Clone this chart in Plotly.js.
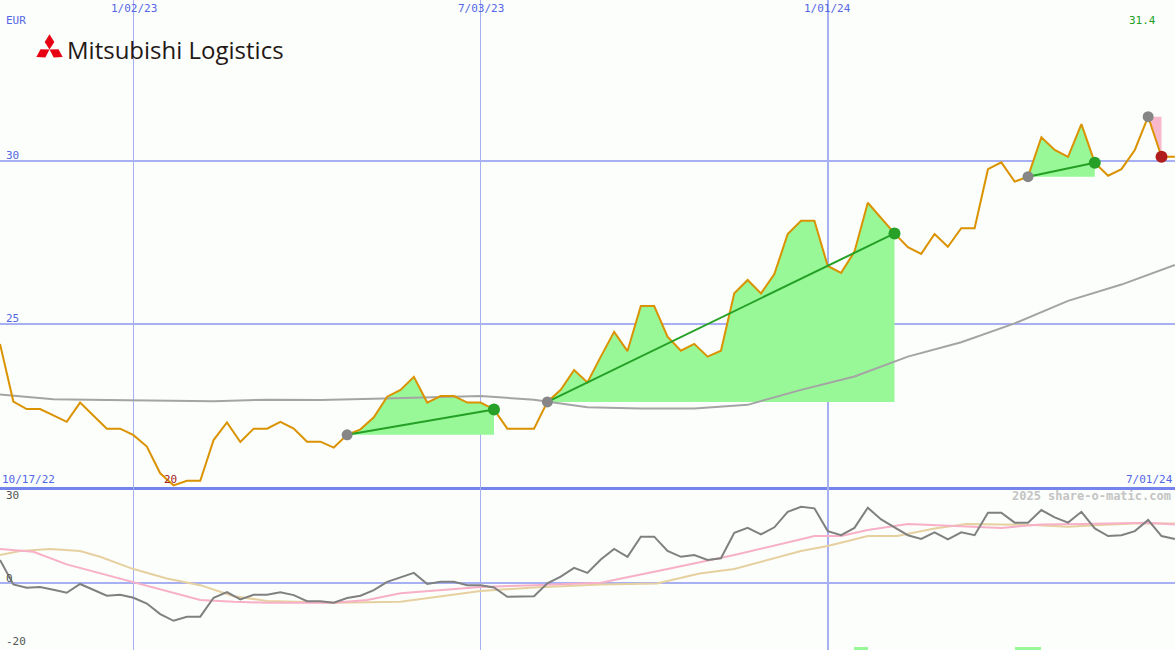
<!DOCTYPE html>
<html>
<head>
<meta charset="utf-8">
<script src="https://cdn.plot.ly/plotly-3.0.1.min.js"></script>
<style>
html,body{margin:0;padding:0;background:#fbfefb;}
#chart{width:1175px;height:650px;}
</style>
</head>
<body>
<div id="chart"></div>
<script>
// ---------- DATA ----------
// weekly closing prices (EUR), week 0 .. 88
const price = [24.39,22.62,22.39,22.39,22.20,22.00,22.59,22.19,21.79,21.79,
  21.59,21.24,20.42,20.05,20.19,20.19,21.44,21.98,21.38,21.79,
  21.79,22.00,21.79,21.39,21.39,21.21,21.60,21.77,22.14,22.77,
  22.98,23.38,22.59,22.79,22.79,22.59,22.59,22.38,21.79,21.79,
  21.79,22.61,22.98,23.59,23.21,24.00,24.76,24.17,25.55,25.55,
  24.61,24.18,24.39,24.00,24.18,25.94,26.35,25.94,26.53,27.76,
  28.17,28.17,26.78,26.57,27.22,28.72,28.24,27.78,27.36,27.15,
  27.76,27.37,27.94,27.94,29.75,29.96,29.37,29.52,30.73,30.34,
  30.13,31.13,29.95,29.55,29.75,30.34,31.36,30.13,30.13];
const weeks = price.map((_, i) => i);

// long moving average (main panel)
const maWeeks = [0,4,8,12,16,20,24,28,32,36,40,44,48,52,56,60,64,68,72,76,80,84,88];
const maVals  = [22.84,22.69,22.67,22.64,22.63,22.68,22.67,22.71,22.75,22.79,22.68,22.45,
  22.41,22.41,22.52,22.98,23.39,24.00,24.44,25.02,25.71,26.21,26.81];

// momentum indicator (lower panel)
const momentum = [7.9,-0.45,-1.6,-1.3,-2.3,-3.3,-0.3,-2.3,-4.3,-4.0,
  -5.0,-7.0,-10.6,-12.9,-11.5,-11.5,-5.0,-3.1,-5.6,-4.0,
  -4.0,-3.1,-4.1,-6.2,-6.2,-6.7,-5.1,-4.3,-2.4,0.45,
  1.9,3.5,-0.3,0.45,0.45,-0.7,-0.7,-1.5,-4.7,-4.5,
  -4.5,-0.1,2.2,5.2,3.5,8.1,11.7,9.0,15.9,15.9,
  11.0,9.0,9.6,7.9,8.5,17.2,18.9,16.7,19.1,24.4,
  26.1,25.6,17.8,16.4,18.9,25.8,21.8,19.1,16.4,15.1,
  17.4,15.0,17.4,16.4,24.1,24.1,20.7,20.7,25.0,22.5,
  20.7,24.4,18.7,16.1,16.4,17.8,21.6,16.1,15.1];

const pinkWeeks = [0,2.5,5,7.5,10,12.5,15,17.5,20,25,27.5,30,36,40,45,50,55,60,61,63,65,68,73,75,78,81,86,88];
const pinkVals  = [11.7,10.7,6.4,3.3,0.2,-2.7,-5.8,-6.4,-6.7,-6.7,-5.8,-3.5,-1.3,-0.7,0.1,4.8,9.6,15.0,16.1,16.1,18.2,20.2,19.3,18.9,20.1,20.2,20.7,20.1];

const tanWeeks = [0,1.5,3.75,6,7.5,10,12.5,15,17.5,20,25,30,36,40,45,49.2,52.4,55,60,62,65,67.2,70,72.4,77.4,80,82.4,85,88];
const tanVals  = [9.6,11.0,11.7,11.0,9.0,4.8,1.6,-0.7,-4.5,-6.1,-6.7,-6.4,-2.7,-1.5,-0.45,-0.1,3.3,4.8,11.0,12.7,16.1,16.1,18.7,20.2,19.9,19.3,19.9,20.4,20.4];

// signal bars at the bottom of the lower panel
const sigWeeks = [64.5,76.5,77.5];
const sigVals  = [1.1,1.1,1.1];

// trend segments: [startWeek, endWeek, direction]
const trendStart = [26,41,77,86];
const trendEnd   = [37,67,82,87];
const trendUp    = [true,true,true,false];

// labels
const tickWeeks = [10,36,62];
const tickText  = ['1/02/23','7/03/23','1/01/24'];
const priceTicks = [25,30];
const lowerTicks = [30,0,-20];
const startLabel = '10/17/22';
const endLabel = '7/01/24';
const currency = 'EUR';
const maxLabel = '31.4';
const minLabel = '20';
const company = 'Mitsubishi Logistics';
const watermark = '2025 share-o-matic.com';

// ---------- STYLE ----------
const W = 1175, H = 650;
const LOWER_FRAC = 163/650;
const blue = '#5566e6';
const grid = '#a6b0f2';
const mono = 'DejaVu Sans Mono, monospace';
const FS = 11;

const traces = [];

// trend fills
for (let i = 0; i < trendStart.length; i++) {
  const s = trendStart[i], e = trendEnd[i];
  const xs = weeks.slice(s, e + 1);
  const ys = price.slice(s, e + 1);
  xs.push(e, s); ys.push(price[s], price[s]);
  traces.push({x: xs, y: ys, xaxis: 'x', yaxis: 'y', type: 'scatter', mode: 'lines',
    fill: 'toself', fillcolor: trendUp[i] ? '#98f898' : '#f8b8cc', line: {width: 0},
    hoverinfo: 'skip', showlegend: false});
}
// moving average
traces.push({x: maWeeks, y: maVals, xaxis: 'x', yaxis: 'y', type: 'scatter', mode: 'lines',
  line: {color: '#a4a4a4', width: 2}, showlegend: false});
// price
traces.push({x: weeks, y: price, xaxis: 'x', yaxis: 'y', type: 'scatter', mode: 'lines',
  line: {color: '#da9200', width: 2}, showlegend: false});
// trend lines & dots
for (let i = 0; i < trendStart.length; i++) {
  const s = trendStart[i], e = trendEnd[i];
  if (trendUp[i]) {
    traces.push({x: [s, e], y: [price[s], price[e]], xaxis: 'x', yaxis: 'y', type: 'scatter',
      mode: 'lines', line: {color: '#24a024', width: 2}, showlegend: false});
  }
  traces.push({x: [s], y: [price[s]], xaxis: 'x', yaxis: 'y', type: 'scatter', mode: 'markers',
    marker: {color: '#868686', size: 11}, showlegend: false});
  traces.push({x: [e], y: [price[e]], xaxis: 'x', yaxis: 'y', type: 'scatter', mode: 'markers',
    marker: {color: trendUp[i] ? '#26a026' : '#b01c1c', size: 12}, showlegend: false});
}
// lower panel
traces.push({x: sigWeeks, y: sigVals, base: -22.9, width: 1, xaxis: 'x2', yaxis: 'y2', type: 'bar',
  marker: {color: '#98f898', line: {width: 0}}, showlegend: false});
traces.push({x: tanWeeks, y: tanVals, xaxis: 'x2', yaxis: 'y2', type: 'scatter', mode: 'lines',
  line: {color: '#e6d0a0', width: 2}, showlegend: false});
traces.push({x: pinkWeeks, y: pinkVals, xaxis: 'x2', yaxis: 'y2', type: 'scatter', mode: 'lines',
  line: {color: '#f8b0c8', width: 2}, showlegend: false});
traces.push({x: weeks, y: momentum, xaxis: 'x2', yaxis: 'y2', type: 'scatter', mode: 'lines',
  line: {color: '#808080', width: 2}, showlegend: false});

// ---------- ANNOTATIONS ----------
const py = p => 1 - p / H;   // pixel row -> paper y
const px = p => p / W;       // pixel col -> paper x
const ann = [];
tickWeeks.forEach((w, i) => ann.push({x: w, xref: 'x', y: py(8), yref: 'paper', yanchor: 'middle',
  text: tickText[i], showarrow: false, font: {family: mono, size: FS, color: blue}}));
ann.push({x: px(4), xref: 'paper', xanchor: 'left', y: py(20), yref: 'paper', yanchor: 'middle',
  text: currency, showarrow: false, font: {family: mono, size: FS, color: blue}});
priceTicks.forEach(v => ann.push({x: px(4), xref: 'paper', xanchor: 'left', y: v, yref: 'y', yanchor: 'middle',
  yshift: 6, text: String(v), showarrow: false, font: {family: mono, size: FS, color: blue}}));
lowerTicks.forEach(v => ann.push({x: px(4), xref: 'paper', xanchor: 'left', y: v, yref: 'y2',
  yanchor: 'middle', yshift: v === 0 ? 5 : 0, text: String(v), showarrow: false,
  font: {family: mono, size: FS, color: '#555555'}}));
ann.push({x: 0, xref: 'paper', xanchor: 'left', y: py(479), yref: 'paper', yanchor: 'middle',
  text: startLabel, showarrow: false, font: {family: mono, size: FS, color: blue}});
ann.push({x: 1, xref: 'paper', xanchor: 'right', y: py(479), yref: 'paper', yanchor: 'middle',
  text: endLabel, showarrow: false, font: {family: mono, size: FS, color: blue}});
const minW = price.indexOf(Math.min(...price));
const maxW = price.indexOf(Math.max(...price));
ann.push({x: minW, xref: 'x', xshift: -3, y: py(479), yref: 'paper', yanchor: 'middle',
  text: minLabel, showarrow: false, font: {family: mono, size: FS, color: '#a01c1c'}});
ann.push({x: maxW, xref: 'x', xshift: -6, y: py(20), yref: 'paper', yanchor: 'middle',
  text: maxLabel, showarrow: false, font: {family: mono, size: FS, color: '#22a022'}});
ann.push({x: 1, xref: 'paper', xanchor: 'right', xshift: -2, y: py(496), yref: 'paper', yanchor: 'middle',
  text: watermark, showarrow: false, font: {family: mono, size: 12, color: '#c4c4c4', weight: 'bold'}});
ann.push({x: px(65), xref: 'paper', xanchor: 'left', y: py(50), yref: 'paper', yanchor: 'middle',
  text: company, showarrow: false, font: {family: 'Open Sans', size: 24, color: '#231815', weight: 500}});

// ---------- LOGO (three diamonds) ----------
const cx = 49.5, cy = 49.5;
const rh = [[0,0],[-4.8,-7.6],[0,-15.2],[4.8,-7.6]];
function rot(p, deg) {
  const a = deg * Math.PI / 180;
  return [p[0]*Math.cos(a) - p[1]*Math.sin(a), p[0]*Math.sin(a) + p[1]*Math.cos(a)];
}
const shapes = [0, 120, 240].map(deg => {
  const pts = rh.map(p => rot(p, deg)).map(p => [px(cx + p[0]), py(cy + p[1])]);
  return {type: 'path', xref: 'paper', yref: 'paper', layer: 'above',
    path: 'M' + pts.map(p => p[0] + ',' + p[1]).join('L') + 'Z',
    fillcolor: '#e60012', line: {width: 0}};
});

const layout = {
  width: W, height: H,
  margin: {l: 0, r: 0, t: 0, b: 0},
  paper_bgcolor: '#fbfefb', plot_bgcolor: '#fbfefb',
  showlegend: false,
  xaxis: {domain: [0, 1], range: [0, 88.01], anchor: 'y', tickvals: tickWeeks, showticklabels: false,
    ticks: '', showgrid: true, gridcolor: grid, gridwidth: 1.5, zeroline: false,
    showline: true, linecolor: '#7484ec', linewidth: 2.5},
  xaxis2: {domain: [0, 1], matches: 'x', anchor: 'y2', tickvals: tickWeeks, showticklabels: false,
    ticks: '', showgrid: true, gridcolor: grid, gridwidth: 1.5, zeroline: false, showline: false},
  yaxis: {domain: [LOWER_FRAC, 1], range: [20, 34.94], tickvals: priceTicks, showticklabels: false,
    ticks: '', showgrid: true, gridcolor: grid, gridwidth: 2, zeroline: false},
  yaxis2: {domain: [0, LOWER_FRAC], range: [-22.9, 32.9], tickvals: [], showticklabels: false,
    ticks: '', showgrid: false, zeroline: true, zerolinecolor: grid, zerolinewidth: 2},
  annotations: ann,
  shapes: shapes,
  bargap: 0
};

Plotly.newPlot('chart', traces, layout, {staticPlot: true, displayModeBar: false});
</script>
</body>
</html>
